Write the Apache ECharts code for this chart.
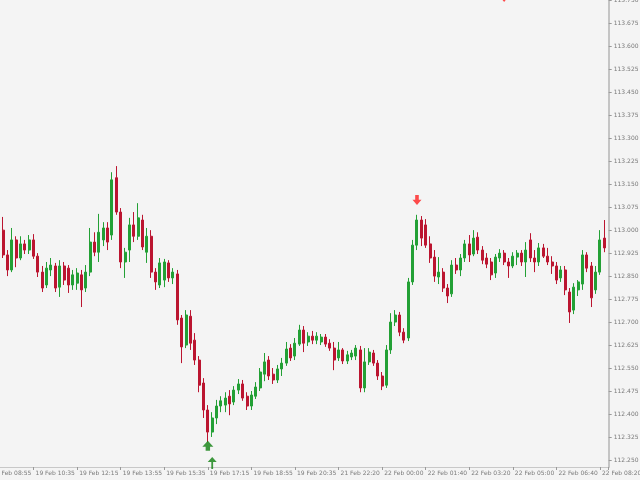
<!DOCTYPE html>
<html>
<head>
<meta charset="utf-8">
<script src="https://cdn.jsdelivr.net/npm/echarts@6/dist/echarts.min.js"></script>
<style>
  html, body { margin: 0; padding: 0; background: #f4f4f4; }
  #main { width: 640px; height: 480px; }
</style>
</head>
<body>
<div id="main"></div>
<script>
// time labels, one every 10 bars (10-minute candles)
const xTicks = ['19 Feb 08:55', '19 Feb 10:35', '19 Feb 12:15', '19 Feb 13:55', '19 Feb 15:35',
  '19 Feb 17:15', '19 Feb 18:55', '19 Feb 20:35', '21 Feb 22:20', '22 Feb 00:00',
  '22 Feb 01:40', '22 Feb 03:20', '22 Feb 05:00', '22 Feb 06:40', '22 Feb 08:20'];

const yTicks = [113.750, 113.675, 113.600, 113.525, 113.450, 113.375, 113.300, 113.225, 113.150,
  113.075, 113.000, 112.925, 112.850, 112.775, 112.700, 112.625, 112.550, 112.475, 112.400,
  112.325, 112.250];

// [open, close, low, high]
const candles = [
  [113.018,113.008,112.994,113.034],[113.008,113.027,112.985,113.051],[112.991,113.027,112.981,113.076],
  [113.001,112.920,112.910,113.044],[112.920,112.871,112.851,112.936],[112.871,112.969,112.864,113.008],
  [112.969,112.910,112.880,112.981],[112.910,112.956,112.903,112.981],[112.956,112.936,112.923,112.969],
  [112.936,112.969,112.923,112.985],[112.969,112.916,112.907,112.988],[112.916,112.864,112.848,112.926],
  [112.864,112.812,112.799,112.884],[112.822,112.877,112.812,112.897],[112.871,112.887,112.851,112.910],
  [112.884,112.812,112.799,112.894],[112.815,112.884,112.783,112.903],[112.884,112.838,112.822,112.897],
  [112.877,112.822,112.796,112.887],[112.822,112.855,112.806,112.871],[112.828,112.861,112.806,112.877],
  [112.855,112.806,112.750,112.871],[112.812,112.864,112.799,112.887],[112.864,112.962,112.851,113.008],
  [112.962,112.929,112.916,112.994],[112.929,112.994,112.897,113.054],[112.969,113.008,112.949,113.027],
  [113.008,112.962,112.936,113.027],[112.985,113.165,112.969,113.190],[113.172,113.060,113.051,113.210],
  [113.060,112.897,112.877,113.073],[112.897,112.929,112.845,112.943],[112.936,113.018,112.897,113.041],
  [113.018,112.981,112.962,113.060],[112.981,113.041,112.969,113.089],[113.034,112.946,112.936,113.051],
  [112.929,112.981,112.894,113.008],[112.981,112.864,112.845,113.001],[112.864,112.832,112.806,112.877],
  [112.822,112.894,112.812,112.910],[112.838,112.897,112.815,112.907],[112.894,112.845,112.832,112.903],
  [112.845,112.864,112.825,112.877],[112.858,112.708,112.692,112.871],[112.714,112.620,112.567,112.724],
  [112.626,112.724,112.616,112.740],[112.720,112.632,112.610,112.740],[112.642,112.577,112.561,112.665],
  [112.577,112.495,112.472,112.590],[112.502,112.414,112.388,112.518],[112.414,112.342,112.309,112.430],
  [112.342,112.388,112.326,112.407],[112.388,112.427,112.368,112.447],[112.427,112.444,112.407,112.459],
  [112.430,112.453,112.407,112.472],[112.459,112.434,112.397,112.479],[112.440,112.479,112.430,112.492],
  [112.479,112.499,112.466,112.515],[112.499,112.453,112.444,112.512],[112.459,112.427,112.414,112.472],
  [112.427,112.463,112.414,112.476],[112.459,112.489,112.450,112.505],[112.486,112.538,112.476,112.551],
  [112.531,112.571,112.508,112.600],[112.577,112.525,112.512,112.590],[112.531,112.512,112.499,112.551],
  [112.512,112.548,112.502,112.561],[112.548,112.567,112.525,112.584],[112.567,112.613,112.558,112.636],
  [112.616,112.584,112.574,112.629],[112.590,112.632,112.577,112.649],[112.629,112.675,112.623,112.692],
  [112.675,112.632,112.603,112.688],[112.636,112.655,112.623,112.668],[112.655,112.642,112.629,112.672],
  [112.642,112.655,112.629,112.668],[112.636,112.652,112.626,112.662],[112.652,112.629,112.620,112.662],
  [112.632,112.616,112.607,112.645],[112.616,112.577,112.544,112.636],[112.584,112.610,112.574,112.636],
  [112.610,112.574,112.564,112.616],[112.574,112.594,112.564,112.607],[112.587,112.600,112.577,112.610],
  [112.590,112.616,112.577,112.626],[112.610,112.486,112.472,112.623],[112.486,112.571,112.472,112.616],
  [112.571,112.603,112.561,112.616],[112.600,112.567,112.558,112.610],[112.567,112.525,112.512,112.577],
  [112.525,112.492,112.479,112.538],[112.495,112.610,112.486,112.626],[112.610,112.701,112.597,112.730],
  [112.701,112.724,112.688,112.740],[112.724,112.668,112.655,112.734],[112.668,112.642,112.632,112.681],
  [112.649,112.832,112.639,112.845],[112.832,112.952,112.822,112.969],[112.952,113.034,112.936,113.051],
  [113.034,112.975,112.949,113.047],[113.018,112.952,112.943,113.037],[112.956,112.910,112.894,112.981],
  [112.913,112.851,112.832,112.936],[112.848,112.864,112.825,112.913],[112.864,112.812,112.799,112.877],
  [112.812,112.786,112.763,112.825],[112.793,112.887,112.783,112.903],[112.887,112.871,112.858,112.910],
  [112.871,112.910,112.851,112.923],[112.910,112.956,112.897,112.969],[112.956,112.920,112.897,112.985],
  [112.923,112.975,112.916,113.001],[112.978,112.936,112.923,112.994],[112.936,112.903,112.890,112.949],
  [112.910,112.890,112.877,112.926],[112.897,112.855,112.838,112.910],[112.861,112.913,112.845,112.923],
  [112.910,112.926,112.897,112.939],[112.926,112.897,112.887,112.936],[112.897,112.884,112.845,112.910],
  [112.884,112.916,112.877,112.929],[112.913,112.926,112.887,112.936],[112.926,112.897,112.884,112.936],
  [112.897,112.936,112.848,112.962],[112.969,112.910,112.897,112.991],[112.910,112.897,112.864,112.936],
  [112.897,112.943,112.884,112.959],[112.943,112.916,112.910,112.956],[112.916,112.897,112.887,112.943],
  [112.897,112.884,112.858,112.916],[112.884,112.838,112.825,112.897],[112.845,112.871,112.832,112.884],
  [112.871,112.806,112.789,112.884],[112.799,112.734,112.698,112.812],[112.740,112.815,112.727,112.828],
  [112.806,112.832,112.786,112.838],[112.825,112.920,112.806,112.936],[112.920,112.877,112.864,112.929],
  [112.884,112.780,112.750,112.897],[112.806,112.864,112.793,112.884],[112.864,112.969,112.855,113.001],
  [112.975,112.943,112.929,113.034],
  '-'
];

// signal arrows: [bar index, price]
const sellArrows = [[98, 113.099], [118, 113.762]];
const buyArrowsBig = [[50, 112.297]];
const buyArrowsThin = [[51, 112.241]];

const cats = candles.map((c, i) => (i % 10 === 0 && xTicks[i / 10]) ? xTicks[i / 10] : 'bar' + i);

const chart = echarts.init(document.getElementById('main'));
const labelFont = { fontFamily: 'DejaVu Sans', fontSize: 6, color: '#7a7a7a' };

chart.setOption({
  backgroundColor: '#f4f4f4',
  animation: false,
  grid: { left: -10, right: 31.3, top: 0, bottom: 13, outerBoundsMode: 'none' },
  xAxis: {
    type: 'category',
    data: cats,
    boundaryGap: false,
    axisLine: { lineStyle: { color: '#c8c8c8', width: 1 } },
    axisTick: { interval: 9, length: 3, lineStyle: { color: '#9a9a9a' } },
    axisLabel: Object.assign({
      interval: 9, align: 'left', padding: [0, 0, 0, 2], margin: 3,
      showMinLabel: true, showMaxLabel: true,
      formatter: v => v.indexOf('bar') === 0 ? '' : v
    }, labelFont),
    splitLine: { show: false }
  },
  yAxis: {
    type: 'value',
    position: 'right',
    min: 112.228,
    max: 113.752,
    scale: true,
    axisLine: { show: true, lineStyle: { color: '#c4c4c4', width: 2 } },
    axisTick: { show: true, length: 3, customValues: yTicks, lineStyle: { color: '#9a9a9a' } },
    axisLabel: Object.assign({
      customValues: yTicks, margin: 5,
      formatter: v => v.toFixed(3)
    }, labelFont),
    splitLine: { show: false }
  },
  series: [
    {
      type: 'candlestick',
      data: candles,
      barWidth: 2.5,
      itemStyle: {
        color: '#23a035', color0: '#bb1530',
        borderColor: '#23a035', borderColor0: '#bb1530',
        borderWidth: 1
      }
    },
    {
      type: 'scatter', data: sellArrows, clip: false,
      symbol: 'path://M3,0 L7,0 L7,5 L10,5 L5,11 L0,5 L3,5 Z', symbolSize: [9, 10],
      itemStyle: { color: '#ff1f1f' }
    },
    {
      type: 'scatter', data: buyArrowsBig, clip: false,
      symbol: 'path://M5,0 L10,6 L7,6 L7,10 L3,10 L3,6 L0,6 Z', symbolSize: [11, 10],
      itemStyle: { color: '#0f800f' }
    },
    {
      type: 'scatter', data: buyArrowsThin, clip: false,
      symbol: 'path://M5,0 L10,5 L6,5 L6,12 L4,12 L4,5 L0,5 Z', symbolSize: [9, 12],
      itemStyle: { color: '#0f800f' }
    }
  ]
});
</script>
</body>
</html>
